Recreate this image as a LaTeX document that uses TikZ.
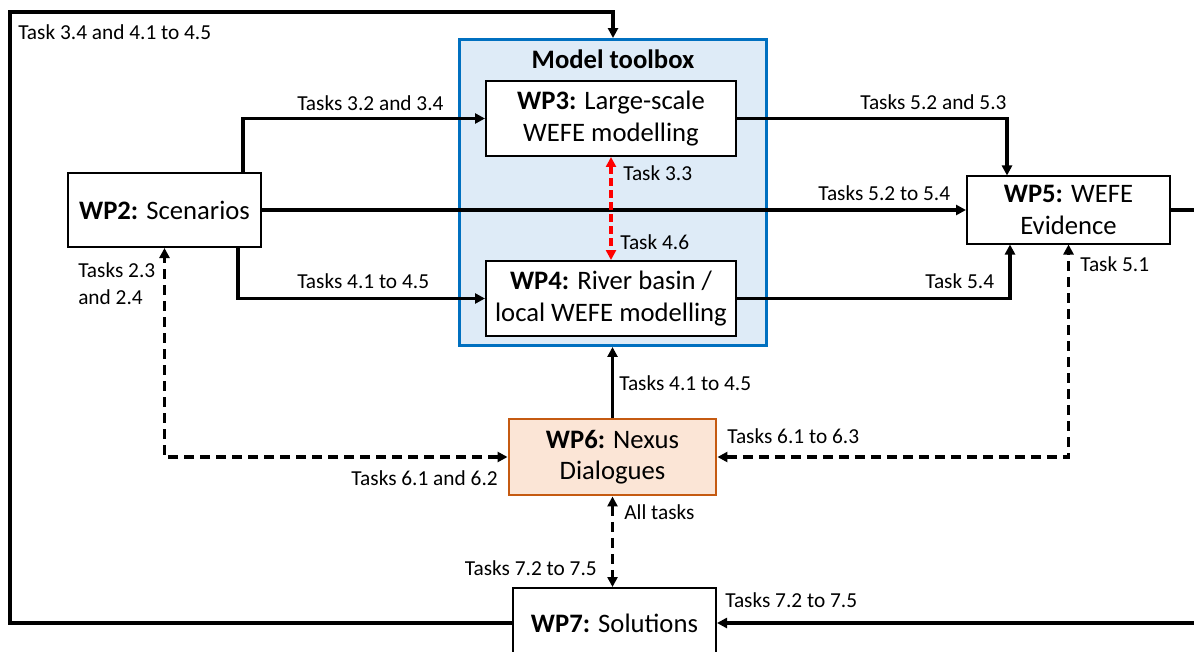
\documentclass[tikz,border=0pt]{standalone}
\usepackage{fontspec}
\setmainfont{Carlito}
\usetikzlibrary{positioning}
\usetikzlibrary{calc}
\usetikzlibrary{arrows.meta}
\definecolor{toolbox fill}{HTML}{DEEBF7}
\definecolor{toolbox line}{HTML}{0070C0}
\definecolor{dialogue fill}{HTML}{FBE5D6}
\definecolor{dialogue line}{HTML}{C55A11}
\tikzset{
    % Small solid triangles on every link
    >={Triangle[length=7.5pt,width=7.5pt]},
%
    % A work package box
    wp box/.style={
        draw, rectangle, fill=white, align=center, inner sep=0,
        line width=1.5pt, font=\fontsize{20}{23.5}\selectfont},
%
    % Text written beside the links
    task text/.style={inner sep=0, font=\fontsize{16}{20}\selectfont},
%
    % Solid and dashed links between work packages
    link/.style={draw, line width=2.4pt},
    dashed link/.style={link, dash pattern=on 7.5pt off 4.5pt},
    % The exchange inside the toolbox
    red link/.style={draw, red, line width=2.4pt, dash pattern=on 6pt off 3pt}}

\begin{document}
\begin{tikzpicture}[x=0.75pt, y=-0.75pt]

\useasboundingbox (0,0) rectangle (1194,652);
\clip (0,0) rectangle (1194,652);

% The model toolbox holding WP3 and WP4
\path
    node[draw=toolbox line, fill=toolbox fill, line width=2.2pt, inner sep=0,
        minimum width=230pt, minimum height=229.5pt]
        (toolbox) at (613,192.5) {}
    node[font=\bfseries\fontsize{20}{24}\selectfont]
        (toolbox title) at (613,59) {Model toolbox}
    node[wp box, minimum width=187.5pt, minimum height=56.25pt]
        (wp3) at (611,118.5) {\textbf{WP3:} Large-scale\\WEFE modelling}
    node[wp box, minimum width=187.5pt, minimum height=56.25pt]
        (wp4) at (611,298.5) {\textbf{WP4:} River basin /\\local WEFE modelling};

% The other work packages
\path
    node[wp box, minimum width=144.75pt, minimum height=55.5pt]
        (wp2) at (164.5,210) {\textbf{WP2:} Scenarios}
    node[wp box, minimum width=152.25pt, minimum height=50.25pt]
        (wp5) at (1068.5,210) {\textbf{WP5:} WEFE\\Evidence}
    node[wp box, draw=dialogue line, fill=dialogue fill, line width=2.2pt,
        minimum width=155.25pt, minimum height=57pt]
        (wp6) at (612.5,457) {\textbf{WP6:} Nexus\\Dialogues}
    node[wp box, minimum width=152.25pt, minimum height=52.5pt]
        (wp7) at (614.5,623) {\textbf{WP7:} Solutions};

% Corners of the two long feedback loops
\coordinate (loop corner) at (10,12);
\coordinate (right loop) at (1230,400);

% Solid links
\draw[->, link] (wp7.west) -| (loop corner) -| (toolbox.north);
\draw[->, link] ($(wp2.north)+(78.5,0)$) |- (wp3.west);
\draw[->, link] ($(wp2.south)+(73.5,0)$) |- (wp4.west);
\draw[->, link] (wp2.east) -- (wp5.west);
\draw[->, link] (wp3.east) -| ($(wp5.north)+(-61.5,0)$);
\draw[->, link] (wp4.east) -| ($(wp5.south)+(-58.5,0)$);
\draw[->, link] (wp6.north) -- (wp6.north |- toolbox.south);
\draw[->, link] (wp5.east) -| (right loop) |- (wp7.east);

% Dashed links
\draw[<->, red link] (wp3.south) -- (wp4.north);
\draw[<->, dashed link] (wp6.west) -| (wp2.south);
\draw[<->, dashed link] (wp6.east) -| (wp5.south);
\draw[<->, dashed link] (wp6.south) -- (wp6.south |- wp7.north);

% Task labels
\node[task text, anchor=west] (t loop) at (18,32) {Task 3.4 and 4.1 to 4.5};
\node[task text, anchor=west] (t wp3 in) at (297,103) {Tasks 3.2 and 3.4};
\node[task text, anchor=west] (t wp4 in) at (297,281) {Tasks 4.1 to 4.5};
\node[task text, anchor=west] (t wp5 top) at (860,102) {Tasks 5.2 and 5.3};
\node[task text, anchor=west] (t wp5 left) at (818,193) {Tasks 5.2 to 5.4};
\node[task text, anchor=west] (t wp5 low) at (925,281) {Task 5.4};
\node[task text, anchor=west] (t 33) at (623,173) {Task 3.3};
\node[task text, anchor=west] (t 46) at (620,242) {Task 4.6};
\node[task text, anchor=west] (t 51) at (1080,264) {Task 5.1};
\node[task text, anchor=west, align=left] (t wp2) at (78,283.5) {Tasks 2.3\\and 2.4};
\node[task text, anchor=west] (t wp6 up) at (619,383) {Tasks 4.1 to 4.5};
\node[task text, anchor=west] (t wp6 right) at (727,436) {Tasks 6.1 to 6.3};
\node[task text, anchor=east] (t wp6 left) at (498,478) {Tasks 6.1 and 6.2};
\node[task text, anchor=west] (t all) at (624,512) {All tasks};
\node[task text, anchor=east] (t wp7 top) at (597,568) {Tasks 7.2 to 7.5};
\node[task text, anchor=west] (t wp7 right) at (725,600) {Tasks 7.2 to 7.5};

\end{tikzpicture}
\end{document}
